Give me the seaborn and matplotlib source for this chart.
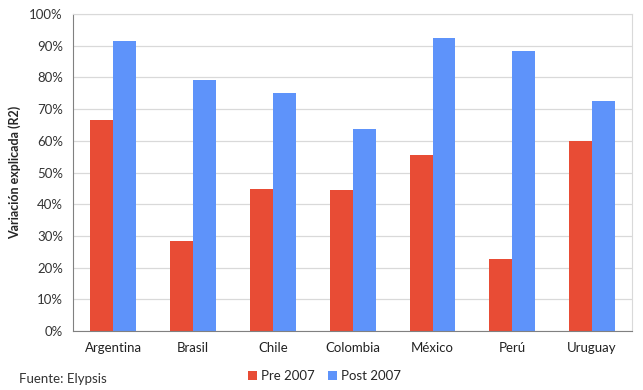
import matplotlib
matplotlib.use("Agg")
import matplotlib.pyplot as plt
import numpy as np
import pandas as pd
import seaborn as sns
from matplotlib.ticker import PercentFormatter, FixedLocator

countries = ["Argentina", "Brasil", "Chile", "Colombia", "México", "Perú", "Uruguay"]
pre_2007 = [0.666, 0.284, 0.448, 0.445, 0.555, 0.229, 0.600]
post_2007 = [0.916, 0.792, 0.752, 0.639, 0.924, 0.884, 0.725]
series_names = ["Pre 2007", "Post 2007"]

df = pd.DataFrame({
    "pais": countries * 2,
    "valor": pre_2007 + post_2007,
    "periodo": [series_names[0]] * len(countries) + [series_names[1]] * len(countries),
})

sns.set_style("white")
plt.rcParams["font.family"] = ["Lato", "DejaVu Sans"]

fig, ax = plt.subplots(figsize=(6.43, 3.90), dpi=100)
fig.subplots_adjust(left=0.114, right=0.983, top=0.964, bottom=0.151)

sns.barplot(data=df, x="pais", y="valor", hue="periodo", palette=["#E84C35", "#5E93FA"],
            width=0.575, saturation=1, linewidth=0, ax=ax, legend=True)

ax.set_ylim(0, 1)
ax.set_xlim(-0.5, len(countries) - 0.5)
ax.yaxis.set_major_locator(FixedLocator(np.arange(0, 1.01, 0.1)))
ax.yaxis.set_major_formatter(PercentFormatter(1.0, decimals=0))
ax.grid(axis="y", color="#d9d9d9", linewidth=0.9)
ax.set_axisbelow(True)

ax.xaxis.set_minor_locator(FixedLocator(np.arange(-0.5, len(countries), 1.0)))
ax.tick_params(axis="x", which="major", length=0, pad=8, labelsize=9.5, colors="#222222")
ax.tick_params(axis="x", which="minor", length=4, direction="out", color="#808080")
ax.tick_params(axis="y", length=4, direction="out", color="#808080", labelsize=9.5, labelcolor="#333333")

for side in ["left", "bottom"]:
    ax.spines[side].set_color("#808080")
for side in ["top", "right"]:
    ax.spines[side].set_color("#d9d9d9")

ax.set_xlabel("")
ax.set_ylabel("Variación explicada (R2)", fontsize=9, fontweight="bold", labelpad=6)

ax.legend(loc="upper center", bbox_to_anchor=(0.45, -0.085), ncol=2, frameon=False,
          fontsize=9.5, handlelength=0.7, handleheight=0.7, handletextpad=0.3, columnspacing=1.0)

fig.text(0.03, 0.018, "Fuente: Elypsis", fontsize=9.5, color="#333333")

fig.savefig("out.png", dpi=100)
